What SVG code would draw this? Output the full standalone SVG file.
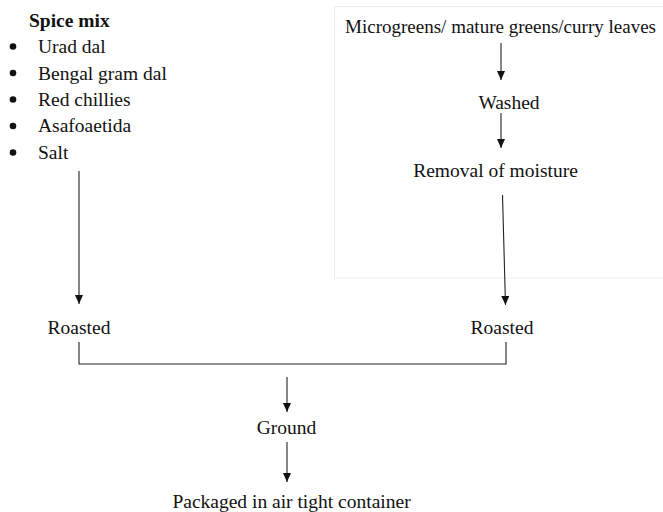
<svg xmlns="http://www.w3.org/2000/svg" width="663" height="512" viewBox="0 0 663 512" font-family="'Liberation Serif', Tinos, 'Times New Roman', 'DejaVu Serif', serif">
<style>
text { font-family: 'Liberation Serif', Tinos, 'Times New Roman', 'DejaVu Serif', serif; font-size: 19.5px; fill: #111; }
.b { font-weight: bold; }
.m { text-anchor: middle; }
.c { fill: none; stroke: #222; stroke-width: 1.1; }
.a { marker-end: url(#ah); }
.dot { fill: #111; }
</style>
<defs>
<marker id="ah" markerUnits="userSpaceOnUse" markerWidth="9" markerHeight="8" refX="9" refY="4" orient="auto">
<path d="M0,0 L9,4 L0,8 z" fill="#111"/>
</marker>
</defs>
<rect width="663" height="512" fill="#ffffff"/>
<rect x="334.5" y="6.5" width="340" height="271.5" fill="none" stroke="#ececec" stroke-width="1"/>
<g id="spice-mix">
<text class="b" x="29" y="26.5">Spice mix</text>
<circle class="dot" cx="13" cy="46.5" r="3.3"/>
<text x="38" y="53">Urad dal</text>
<circle class="dot" cx="13" cy="73" r="3.3"/>
<text x="38" y="79.5">Bengal gram dal</text>
<circle class="dot" cx="13" cy="99.5" r="3.3"/>
<text x="38" y="106">Red chillies</text>
<circle class="dot" cx="13" cy="126" r="3.3"/>
<text x="38" y="132">Asafoaetida</text>
<circle class="dot" cx="13" cy="152.5" r="3.3"/>
<text x="38" y="158.5">Salt</text>
</g>
<g id="greens"><text x="345" y="33" textLength="311" lengthAdjust="spacingAndGlyphs">Microgreens/ mature greens/curry leaves</text></g>
<g id="washed"><text class="m" x="509" y="109">Washed</text></g>
<g id="moisture"><text class="m" x="495.5" y="177">Removal of moisture</text></g>
<g id="roasted-left"><text class="m" x="79" y="334">Roasted</text></g>
<g id="roasted-right"><text class="m" x="502" y="334">Roasted</text></g>
<g id="ground"><text class="m" x="286.5" y="434">Ground</text></g>
<g id="packaged"><text class="m" x="291.5" y="508">Packaged in air tight container</text></g>
<g id="connectors">
<line class="c a" x1="79" y1="171" x2="79" y2="304"/>
<line class="c a" x1="501" y1="43" x2="501" y2="80"/>
<line class="c a" x1="501" y1="113" x2="501" y2="148"/>
<line class="c a" x1="502.5" y1="195" x2="505.5" y2="305"/>
<path class="c" d="M79,342 V364 H506 V342"/>
<line class="c a" x1="287" y1="377" x2="287" y2="412"/>
<line class="c a" x1="287" y1="442" x2="287" y2="482"/>
</g>
</svg>
